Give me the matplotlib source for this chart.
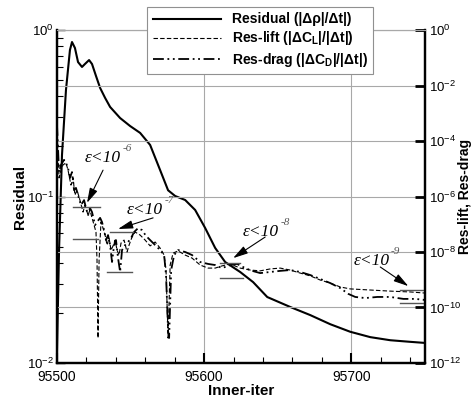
import numpy as np
import matplotlib
matplotlib.use("Agg")
import matplotlib.pyplot as plt
from matplotlib.ticker import FixedLocator, NullLocator, LogFormatterSciNotation, LogLocator, MultipleLocator

plt.rcParams['font.family'] = ['Liberation Sans', 'DejaVu Sans']
plt.rcParams['mathtext.fontset'] = 'custom'
plt.rcParams['mathtext.rm'] = 'Liberation Sans'
plt.rcParams['mathtext.bf'] = 'Liberation Sans:bold'
plt.rcParams['mathtext.it'] = 'Liberation Sans:italic'

# ---------------------------
# data
# ---------------------------
# Residual (left axis)
res_iter = [95500, 95501.4, 95503.4, 95506.1, 95508.8, 95510.2, 95512.2, 95514.3, 95517.0, 95519.0,
            95521.8, 95523.8, 95526.5, 95529.3, 95532.7, 95536.1, 95542.9, 95549.7, 95556.5, 95563.3,
            95570.1, 95575.5, 95580.3, 95587.1, 95593.9, 95600.7, 95607.5, 95614.3, 95624.5, 95633.3,
            95642.9, 95658.5, 95672.1, 95685.7, 95699.3, 95712.9, 95726.5, 95740.1, 95750]
res_val = [0.012, 0.0477, 0.1775, 0.436, 0.758, 0.847, 0.780, 0.642, 0.600, 0.625,
           0.660, 0.625, 0.530, 0.449, 0.391, 0.345, 0.296, 0.265, 0.241, 0.204,
           0.144, 0.109, 0.1007, 0.0953, 0.0830, 0.0647, 0.0491, 0.0404, 0.0352, 0.0306,
           0.0249, 0.0217, 0.0194, 0.0171, 0.0154, 0.0143, 0.0137, 0.0134, 0.0132]

# Res-lift (right axis), iteration offset from 95500 and log10 of value
lift_off = [0, 1.4, 2.7, 4.1, 6.1, 7.5, 9.5, 10.9, 12.2, 13.6, 15.6, 17.7, 19.0, 21.1, 22.4, 23.8,
            25.2, 26.5, 27.2, 27.9, 28.6, 29.9, 31.3, 32.7, 34.0, 35.4, 36.7, 38.1, 39.5, 40.8, 42.2,
            43.5, 45.6, 47.6, 49.0, 51.0, 53.1, 56.5, 59.9, 63.3, 66.7, 70.1, 72.8, 74.1, 75.5, 76.9,
            78.9, 82.3, 87.1, 91.8, 97.3, 102.7, 107.5, 112.2, 117.7, 124.5, 131.3, 138.1, 144.9,
            151.7, 158.5, 165.3, 172.1, 178.9, 185.7, 192.5, 199.3, 212.9, 226.5, 240.1, 250.3]
lift_log = [-3.60, -5.33, -5.05, -4.86, -4.79, -5.05, -5.59, -5.33, -5.95, -5.77, -6.13, -6.56, -6.31,
            -6.67, -6.49, -6.77, -7.03, -7.28, -8.29, -11.10, -8.29, -6.92, -7.14, -7.39, -7.75, -7.50,
            -7.93, -7.78, -7.57, -7.93, -8.11, -7.68, -7.57, -8.00, -7.75, -7.46, -7.28, -7.39, -7.57,
            -7.78, -7.64, -7.86, -8.11, -8.65, -11.10, -8.47, -8.04, -7.96, -8.11, -8.22, -8.47, -8.58,
            -8.58, -8.50, -8.43, -8.58, -8.65, -8.68, -8.61, -8.58, -8.65, -8.76, -8.86, -9.01, -9.12,
            -9.26, -9.33, -9.37, -9.41, -9.44, -9.48]

# Res-drag (right axis)
drag_off = [0, 1.4, 2.7, 4.8, 6.1, 7.5, 8.8, 10.2, 11.6, 12.9, 14.3, 16.3, 18.4, 19.7, 21.1, 22.4,
            23.8, 25.9, 27.2, 29.3, 30.6, 32.0, 33.3, 34.7, 36.1, 37.4, 38.8, 40.1, 41.5, 42.9, 44.2,
            46.3, 48.3, 50.3, 52.4, 55.1, 57.8, 60.5, 63.3, 66.7, 70.1, 72.8, 74.1, 75.5, 76.2, 77.6,
            79.6, 82.3, 87.1, 91.8, 97.3, 102.7, 107.5, 112.2, 117.7, 122.4, 127.9, 132.7, 138.1,
            144.9, 151.7, 158.5, 165.3, 172.1, 178.9, 185.7, 192.5, 198.0, 202.7, 209.5, 217.7,
            226.5, 235.4, 243.5, 250.3]
drag_log = [-3.42, -5.12, -4.86, -4.68, -4.79, -4.97, -5.33, -5.12, -5.77, -5.69, -5.95, -6.31, -6.13,
            -6.41, -6.67, -6.41, -6.56, -7.03, -6.92, -6.77, -6.92, -7.21, -7.57, -7.39, -7.75, -8.36,
            -7.75, -7.57, -8.22, -8.72, -7.93, -7.75, -7.64, -7.50, -7.28, -7.14, -7.21, -7.42, -7.57,
            -7.75, -7.93, -8.11, -8.83, -10.81, -11.10, -8.65, -8.11, -7.93, -8.00, -8.11, -8.36,
            -8.43, -8.47, -8.58, -8.47, -8.43, -8.58, -8.68, -8.76, -8.72, -8.68, -8.65, -8.72, -8.83,
            -8.97, -9.12, -9.30, -9.51, -9.62, -9.66, -9.62, -9.62, -9.69, -9.69, -9.73]

# epsilon annotations: label exponent, text pos, arrow tail, arrow tip, two bracket lines
eps_exp = ['-6', '-7', '-8', '-9']
eps_text = [(95519.0, -4.76), (95547.6, -6.63), (95626.5, -7.42), (95701.4, -8.47)]
eps_tail = [(95531.3, -5.05), (95565.3, -6.77), (95641.5, -7.46), (95719.7, -8.54)]
eps_tip = [(95520.4, -6.23), (95541.5, -7.17), (95619.7, -8.22), (95738.8, -9.23)]
eps_lines = [[(95510.9, 95529.3, -6.38), (95510.9, 95527.9, -7.53)],
             [(95536.1, 95551.7, -7.28), (95534.0, 95551.0, -8.72)],
             [(95610.9, 95624.5, -8.40), (95610.9, 95626.5, -8.94)],
             [(95733.3, 95750.0, -9.37), (95733.3, 95750.0, -9.84)]]

fig = plt.figure(figsize=(4.71, 4.04), dpi=100)
ax = fig.add_axes([0.121, 0.1015, 0.781, 0.8242])
ax2 = ax.twinx()

l1, = ax.plot(res_iter, res_val, color='black', lw=1.5, label='Residual (|Δρ|/Δt|)')
l2, = ax2.plot(95500 + np.array(lift_off), 10.0 ** np.array(lift_log), color='black', lw=0.8,
               dashes=(4, 2), label=r'Res-lift (|ΔC$_\mathbf{L}$|/|Δt|)')
l3, = ax2.plot(95500 + np.array(drag_off), 10.0 ** np.array(drag_log), color='black', lw=1.3,
               dashes=(6, 2, 1, 2, 1, 2), label=r'Res-drag (|ΔC$_\mathbf{D}$|/|Δt|)')

ax.set_yscale('log')
ax2.set_yscale('log')
ax.set_xlim(95500, 95750)
ax.set_ylim(1e-2, 1)
ax2.set_ylim(1e-12, 1)

ax.xaxis.set_major_locator(FixedLocator([95500, 95600, 95700]))
ax.xaxis.set_minor_locator(MultipleLocator(20))
ax.yaxis.set_major_locator(FixedLocator([1e-2, 1e-1, 1]))
ax.yaxis.set_major_formatter(LogFormatterSciNotation())
ax.yaxis.set_minor_locator(LogLocator(base=10, subs=np.arange(2, 10)))
ax2.yaxis.set_major_locator(FixedLocator(10.0 ** np.arange(0, -13, -2)))
ax2.yaxis.set_major_formatter(LogFormatterSciNotation())
ax2.yaxis.set_minor_locator(NullLocator())

ax.tick_params(axis='x', which='major', direction='in', length=7, width=1.5, labelsize=10, pad=5)
ax.tick_params(axis='x', which='minor', direction='in', length=4, width=0.8)
ax.tick_params(axis='y', which='major', direction='in', length=6, width=1, labelsize=9.5, pad=2)
ax.tick_params(axis='y', which='minor', direction='in', length=4, width=0.8)
ax2.tick_params(axis='y', which='major', direction='in', length=7, width=2, labelsize=9.5, pad=3)

ax.grid(axis='x', color='#a8a8a8', lw=0.8)
ax2.grid(axis='y', color='#a8a8a8', lw=0.8)

for a in (ax, ax2):
    for s in ('left', 'bottom', 'right'):
        a.spines[s].set_linewidth(1.6)
    a.spines['top'].set_color('#a8a8a8')
    a.spines['top'].set_linewidth(0.8)

ax.set_xlabel('Inner-iter', fontsize=11, fontweight='bold')
ax.set_ylabel('Residual', fontsize=11, fontweight='bold')
ax2.set_ylabel('Res-lift, Res-drag', fontsize=10, fontweight='bold')
ax.xaxis.set_label_coords(0.5, -0.063)
ax.yaxis.set_label_coords(-0.082, 0.5)
ax2.yaxis.set_label_coords(1.09, 0.5)

# epsilon annotations
for e, tp, tl, tip, lines in zip(eps_exp, eps_text, eps_tail, eps_tip, eps_lines):
    t = ax2.text(tp[0], 10.0 ** tp[1], 'ε<10', fontsize=12.5, family='Liberation Serif',
                 style='italic', ha='left', va='baseline')
    ax2.annotate(e, xy=(1, 1), xycoords=t, xytext=(1, 1), textcoords='offset points',
                 fontsize=8, family='Liberation Serif', style='italic', color='#555555',
                 ha='left', va='center')
    ax2.annotate('', xy=(tip[0], 10.0 ** tip[1]), xytext=(tl[0], 10.0 ** tl[1]),
                 arrowprops=dict(arrowstyle='-|>,head_length=0.9,head_width=0.25',
                                 color='black', lw=0.8, shrinkA=0, shrinkB=0))
    for x0, x1, ly in lines:
        ax2.plot([x0, x1], [10.0 ** ly, 10.0 ** ly], color='#555555', lw=1)

leg = ax2.legend([l1, l2, l3], [l1.get_label(), l2.get_label(), l3.get_label()],
                 loc='upper left', bbox_to_anchor=(0.312, 0.983), bbox_transform=fig.transFigure,
                 borderaxespad=0, fancybox=False, framealpha=1, edgecolor='#909090',
                 prop={'size': 10, 'weight': 'bold'}, handlelength=4.9, handletextpad=0.8,
                 labelspacing=0.22, borderpad=0.4)
leg.get_frame().set_linewidth(0.8)

plt.savefig('out.png', dpi=100)
